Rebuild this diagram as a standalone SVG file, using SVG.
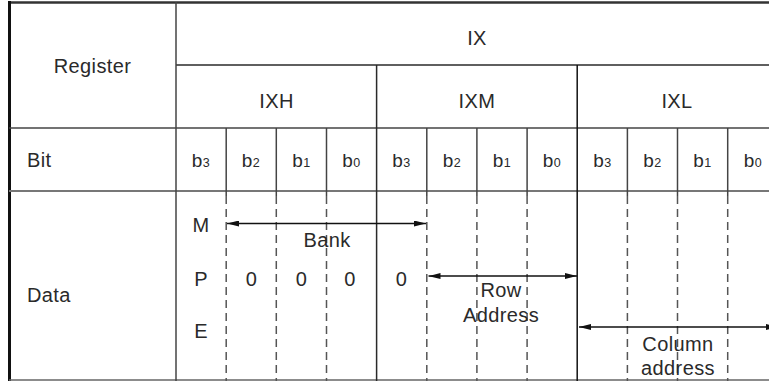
<svg xmlns="http://www.w3.org/2000/svg" width="769" height="381" viewBox="0 0 769 381">
<style>
text{font-family:"Liberation Sans",Arial,sans-serif;font-size:20px;fill:#2a2a2a;letter-spacing:0.4px}
.c{text-anchor:middle}
.sub{font-size:12.5px}
.b{font-size:19px}
.ln{stroke:#2a2a2a;stroke-width:1.5;fill:none}
.lg{stroke:#666;stroke-width:2;fill:none}
.dash{stroke:#555;stroke-width:1.5;stroke-dasharray:8,5;fill:none}
.arr{stroke:#111;stroke-width:1.4;fill:none;marker-start:url(#ah);marker-end:url(#ah)}
</style>
<defs>
<marker id="ah" viewBox="0 0 12 6" refX="12" refY="3" markerWidth="12" markerHeight="6" markerUnits="userSpaceOnUse" orient="auto-start-reverse">
<path d="M0,0 L12,3 L0,6 z" fill="#111"/>
</marker>
</defs>
<rect width="769" height="381" fill="#fff"/>
<g id="grid">
<line class="lg" x1="8" y1="2.5" x2="769" y2="2.5" style="stroke:#333;stroke-width:2.5"/>
<line class="ln" x1="9.5" y1="1" x2="9.5" y2="381" style="stroke-width:3;stroke:#111"/>
<line class="ln" x1="176" y1="65" x2="769" y2="65"/>
<line class="ln" x1="9" y1="128" x2="769" y2="128" style="stroke:#444"/>
<line class="lg" x1="9" y1="191" x2="769" y2="191" style="stroke:#777"/>
<line class="lg" x1="9" y1="380" x2="769" y2="380" style="stroke:#666;stroke-width:1.5"/>
<line class="ln" x1="176" y1="2" x2="176" y2="381" style="stroke:#444"/>
<line class="ln" x1="376.6" y1="65" x2="376.6" y2="381"/>
<line class="ln" x1="577.2" y1="65" x2="577.2" y2="381" style="stroke:#111"/>
<g style="stroke:#444;stroke-width:1.5">
<line x1="226.2" y1="128" x2="226.2" y2="196"/>
<line x1="276.3" y1="128" x2="276.3" y2="196"/>
<line x1="326.5" y1="128" x2="326.5" y2="196"/>
<line x1="426.8" y1="128" x2="426.8" y2="196"/>
<line x1="476.9" y1="128" x2="476.9" y2="196"/>
<line x1="527.1" y1="128" x2="527.1" y2="196"/>
<line x1="627.4" y1="128" x2="627.4" y2="196"/>
<line x1="677.5" y1="128" x2="677.5" y2="196"/>
<line x1="727.7" y1="128" x2="727.7" y2="196"/>
</g>
<line class="dash" x1="226.2" y1="196" x2="226.2" y2="381"/>
<line class="dash" x1="276.3" y1="196" x2="276.3" y2="381"/>
<line class="dash" x1="326.5" y1="196" x2="326.5" y2="381"/>
<line class="dash" x1="426.8" y1="196" x2="426.8" y2="381"/>
<line class="dash" x1="476.9" y1="196" x2="476.9" y2="381"/>
<line class="dash" x1="527.1" y1="196" x2="527.1" y2="381"/>
<line class="dash" x1="627.4" y1="196" x2="627.4" y2="381"/>
<line class="dash" x1="677.5" y1="196" x2="677.5" y2="381"/>
<line class="dash" x1="727.7" y1="196" x2="727.7" y2="381"/>
</g>
<g id="header">
<text class="c" x="92.5" y="73">Register</text>
<text class="c" x="477" y="44.5">IX</text>
<text class="c" x="276.5" y="107.5">IXH</text>
<text class="c" x="477" y="107.5">IXM</text>
<text class="c" x="677" y="107.5">IXL</text>
</g>
<g id="bits">
<text x="27" y="167">Bit</text>
<text class="c b" x="201" y="167">b<tspan class="sub">3</tspan></text>
<text class="c b" x="251" y="167">b<tspan class="sub">2</tspan></text>
<text class="c b" x="301.5" y="167">b<tspan class="sub">1</tspan></text>
<text class="c b" x="351.5" y="167">b<tspan class="sub">0</tspan></text>
<text class="c b" x="401.5" y="167">b<tspan class="sub">3</tspan></text>
<text class="c b" x="452" y="167">b<tspan class="sub">2</tspan></text>
<text class="c b" x="502" y="167">b<tspan class="sub">1</tspan></text>
<text class="c b" x="552" y="167">b<tspan class="sub">0</tspan></text>
<text class="c b" x="602.5" y="167">b<tspan class="sub">3</tspan></text>
<text class="c b" x="652.5" y="167">b<tspan class="sub">2</tspan></text>
<text class="c b" x="702.5" y="167">b<tspan class="sub">1</tspan></text>
<text class="c b" x="753" y="167">b<tspan class="sub">0</tspan></text>
</g>
<g id="data">
<text x="27" y="302">Data</text>
<text class="c" x="201" y="232">M</text>
<text class="c" x="201" y="286">P</text>
<text class="c" x="201" y="338">E</text>
<text class="c" x="251.5" y="286">0</text>
<text class="c" x="301.5" y="286">0</text>
<text class="c" x="350" y="286">0</text>
<text class="c" x="401.5" y="286">0</text>
<text class="c" x="327" y="247">Bank</text>
<text class="c" x="501" y="297">Row</text>
<text class="c" x="501" y="322">Address</text>
<text class="c" x="678" y="351">Column</text>
<text class="c" x="678" y="375">address</text>
</g>
<g id="connectors">
<line class="arr" x1="227" y1="223.5" x2="426" y2="223.5"/>
<line class="arr" x1="428.5" y1="276" x2="577" y2="276"/>
<line class="arr" x1="579" y1="327" x2="778" y2="327"/>
</g>
</svg>
